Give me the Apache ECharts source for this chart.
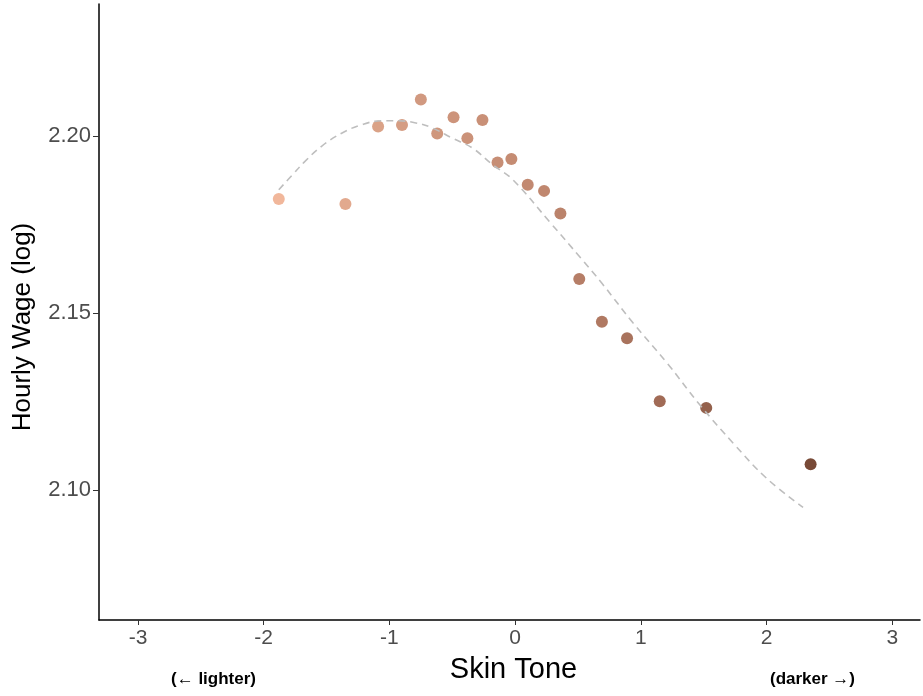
<!DOCTYPE html>
<html lang="en">

<head>
  <script src="https://cdn.jsdelivr.net/npm/echarts@6.0.0/dist/echarts.min.js"></script>
</head>

<body style="margin:0">
  <div id="skinToneChart" style="width: 923px;height:696px;"></div>

  <script type="text/javascript">

    // binned skin tone (x) and mean log hourly wage (y)
    var toneX = [-1.88, -1.35, -1.09, -0.90, -0.75, -0.62, -0.49, -0.38, -0.26, -0.14,
                 -0.03, 0.10, 0.23, 0.36, 0.51, 0.69, 0.89, 1.15, 1.52, 2.35];
    var wageY = [2.1822, 2.1808, 2.2027, 2.2031, 2.2103, 2.2007, 2.2053, 2.1994, 2.2045, 2.1925,
                 2.1935, 2.1862, 2.1845, 2.1781, 2.1596, 2.1475, 2.1429, 2.1251, 2.1232, 2.1073];

    // fitted curve
    var fitX = [-1.88, -1.77, -1.67, -1.54, -1.38, -1.22, -1.06, -0.93, -0.79, -0.66, -0.50,
                -0.34, -0.18, -0.02, 0.28, 0.52, 0.69, 0.94, 1.21, 1.47, 1.74, 2.00, 2.29];
    var fitY = [2.1848, 2.1891, 2.1929, 2.1971, 2.2008, 2.2032, 2.2043, 2.2043, 2.2037, 2.2023, 2.1994,
                2.1966, 2.1919, 2.1877, 2.1755, 2.1656, 2.1584, 2.1471, 2.1358, 2.1240, 2.1130, 2.1033, 2.0951];

    var xTicks = [-3, -2, -1, 0, 1, 2, 3];
    var yTicks = [2.10, 2.15, 2.20];

    function zip(a, b) {
        return a.map(function (v, i) { return [v, b[i]]; });
    }

    function createChart() {
        const chart = echarts.init(document.getElementById("skinToneChart"));
        const font = "'Liberation Sans', Arial, sans-serif";

        let option = {
            animation: false,
            grid: { left: 99, right: 3, top: 4, bottom: 76 },
            xAxis: {
                type: 'value',
                min: -3.31,
                max: 3.22,
                name: 'Skin Tone',
                nameLocation: 'middle',
                nameGap: 35,
                nameTextStyle: { fontSize: 29, color: '#000', fontFamily: font, verticalAlign: 'top', padding: [0, 0, 0, 8] },
                splitLine: { show: false },
                axisLine: { onZero: false, lineStyle: { color: '#000', width: 1.5 } },
                axisTick: { show: true, length: 5, lineStyle: { color: '#333' }, customValues: xTicks },
                axisLabel: {
                    customValues: xTicks, margin: 8, fontSize: 21, color: '#4D4D4D', fontFamily: font
                }
            },
            yAxis: {
                type: 'value',
                min: 2.06328,
                max: 2.23729,
                splitLine: { show: false },
                axisLine: { show: true, onZero: false, lineStyle: { color: '#000', width: 1.5 } },
                axisTick: { show: true, length: 6, lineStyle: { color: '#333' }, customValues: yTicks },
                axisLabel: {
                    customValues: yTicks, margin: 8, fontSize: 22, color: '#4D4D4D', fontFamily: font,
                    formatter: function (v) { return v.toFixed(2); }
                }
            },
            visualMap: {
                show: false,
                type: 'continuous',
                seriesIndex: 0,
                dimension: 0,
                min: -1.9,
                max: 2.35,
                inRange: { color: ['#F2B89C', '#D39B81', '#C0876F', '#9C6752', '#784A37'] }
            },
            graphic: [
                {
                    type: 'text', x: 23, y: 327, rotation: Math.PI / 2,
                    style: {
                        text: 'Hourly Wage (log)', fontSize: 26, fill: '#000', fontFamily: font,
                        align: 'center', verticalAlign: 'middle'
                    }
                },
                {
                    type: 'text', left: 171, top: 671,
                    style: { text: '(← lighter)', fontSize: 17, fontWeight: 'bold', fill: '#000', fontFamily: font }
                },
                {
                    type: 'text', left: 770, top: 671,
                    style: { text: '(darker →)', fontSize: 17, fontWeight: 'bold', fill: '#000', fontFamily: font }
                }
            ],
            series: [
                {
                    type: 'scatter',
                    symbolSize: 12,
                    itemStyle: { opacity: 1 },
                    data: zip(toneX, wageY)
                },
                {
                    type: 'line',
                    smooth: 0.4,
                    showSymbol: false,
                    silent: true,
                    lineStyle: { color: '#BEBEBE', width: 1.6, type: [7, 5] },
                    data: zip(fitX, fitY)
                }
            ]
        };

        chart.setOption(option);
    }
    createChart();
  </script>
</body>

</html>
